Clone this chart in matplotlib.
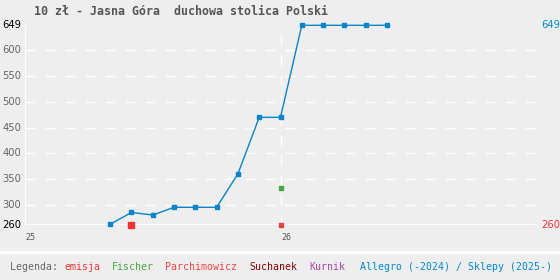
import matplotlib
matplotlib.use("Agg")
import matplotlib.pyplot as plt
import matplotlib.transforms as mtransforms

plt.rcParams['lines.scale_dashes'] = False

# ---- data ----
title = "10 zł - Jasna Góra  duchowa stolica Polski"
# months counted from Jan 2025 (0 = Jan 2025)
allegro_months = [4, 5, 6, 7, 8, 9, 10, 11, 12, 13, 14, 15, 16, 17]
allegro_values = [262, 285, 280, 295, 295, 295, 360, 470, 470, 649, 649, 649, 649, 649]
emisja_months = [5]
emisja_values = [260]
fischer_months = [12]
fischer_values = [332]
parch_months = [12]
parch_values = [260]
y_min, y_max = 260, 649
grid_values = [300, 350, 400, 450, 500, 550, 600]
year_ticks = [2025, 2026]
year_labels = ["25", "26"]
legend_items = [("Legenda:", "#666666"), ("emisja", "#ee3333"), ("Fischer", "#44aa44"),
                ("Parchimowicz", "#ee4444"), ("Suchanek", "#880000"), ("Kurnik", "#aa44aa"),
                ("Allegro (-2024) / Sklepy (2025-)", "#0088cc")]

def mx(months):
    return [2025 + m / 12.0 for m in months]

W, H = 560, 280
fig = plt.figure(figsize=(W / 100, H / 100), dpi=100, facecolor="#eeeeee")
left, right = 25 / W, 536 / W
bottom, top = (H - 225.3) / H, (H - 25.3) / H
ax = fig.add_axes([left, bottom, right - left, top - bottom])
ax.set_facecolor("#eeeeee")
ax.set_xlim(2025, 2027)
ax.set_ylim(y_min, y_max)
for s in ax.spines.values():
    s.set_visible(False)
ax.set_xticks([])
ax.set_yticks([])

dash = (0, (7.2, 7.2))
for g in grid_values:
    ax.axhline(g, color="white", lw=1.0, ls=dash, zorder=1)
ax.axhline(y_min, color="white", lw=1.2, zorder=1)
ax.axvline(2025, color="white", lw=1.2, zorder=1)
ax.axvline(2026, color="white", lw=1.0, ls=dash, zorder=1)

ax.plot(mx(allegro_months), allegro_values, color="#0a84c8", lw=1.0, marker="s",
        ms=3.0, mec="#0a84c8", mfc="#0a84c8", zorder=3, clip_on=False)
ax.plot(mx(emisja_months), emisja_values, ls="none", marker="s", ms=4.4,
        color="#ee3333", zorder=4, clip_on=False)
ax.plot(mx(fischer_months), fischer_values, ls="none", marker="s", ms=2.8,
        color="#44aa44", zorder=4, clip_on=False)
ax.plot(mx(parch_months), parch_values, ls="none", marker="s", ms=2.8,
        color="#e04444", zorder=4, clip_on=False)

# y labels
tl = mtransforms.blended_transform_factory(fig.transFigure, ax.transData)
for g in grid_values:
    fig.text(21 / W, g, str(g), transform=tl, ha="right", va="center",
             fontsize=7.2, color="#666666", family="DejaVu Sans")
fig.text(21 / W, y_max, str(y_max), transform=tl, ha="right", va="center",
         fontsize=7.2, color="black", family="DejaVu Sans")
fig.text(21 / W, y_min, str(y_min), transform=tl, ha="right", va="center",
         fontsize=7.2, color="black", family="DejaVu Sans")
fig.text(541 / W, y_max, str(y_max), transform=tl, ha="left", va="center",
         fontsize=7.2, color="#0088cc", family="DejaVu Sans")
fig.text(541 / W, y_min, str(y_min), transform=tl, ha="left", va="center",
         fontsize=7.2, color="#ee3333", family="DejaVu Sans")

# x labels
tx = mtransforms.blended_transform_factory(ax.transData, fig.transFigure)
for t, l in zip(year_ticks, year_labels):
    fig.text(t + 0.002, (H - 238) / H, l, transform=tx, ha="left", va="center",
             fontsize=6, color="#555555", family="DejaVu Sans Mono")

# title
fig.text(34 / W, (H - 11.5) / H, title, ha="left", va="center", fontsize=8.4,
         fontweight="bold", color="#555555", family="DejaVu Sans Mono")

# separator band and legend
fig.add_artist(plt.Line2D([0, 1], [(H - 251.5) / H] * 2, color="white", lw=2.4,
                          transform=fig.transFigure))
xpos = [9.6, 64.6, 111.8, 164.6, 249.6, 309, 359.6]
for (txt, col), xp in zip(legend_items, xpos):
    fig.text(xp / W, (H - 267.5) / H, txt, ha="left", va="center", fontsize=7.1,
             color=col, family="DejaVu Sans Mono")

fig.savefig("out.png", dpi=100, facecolor=fig.get_facecolor())
